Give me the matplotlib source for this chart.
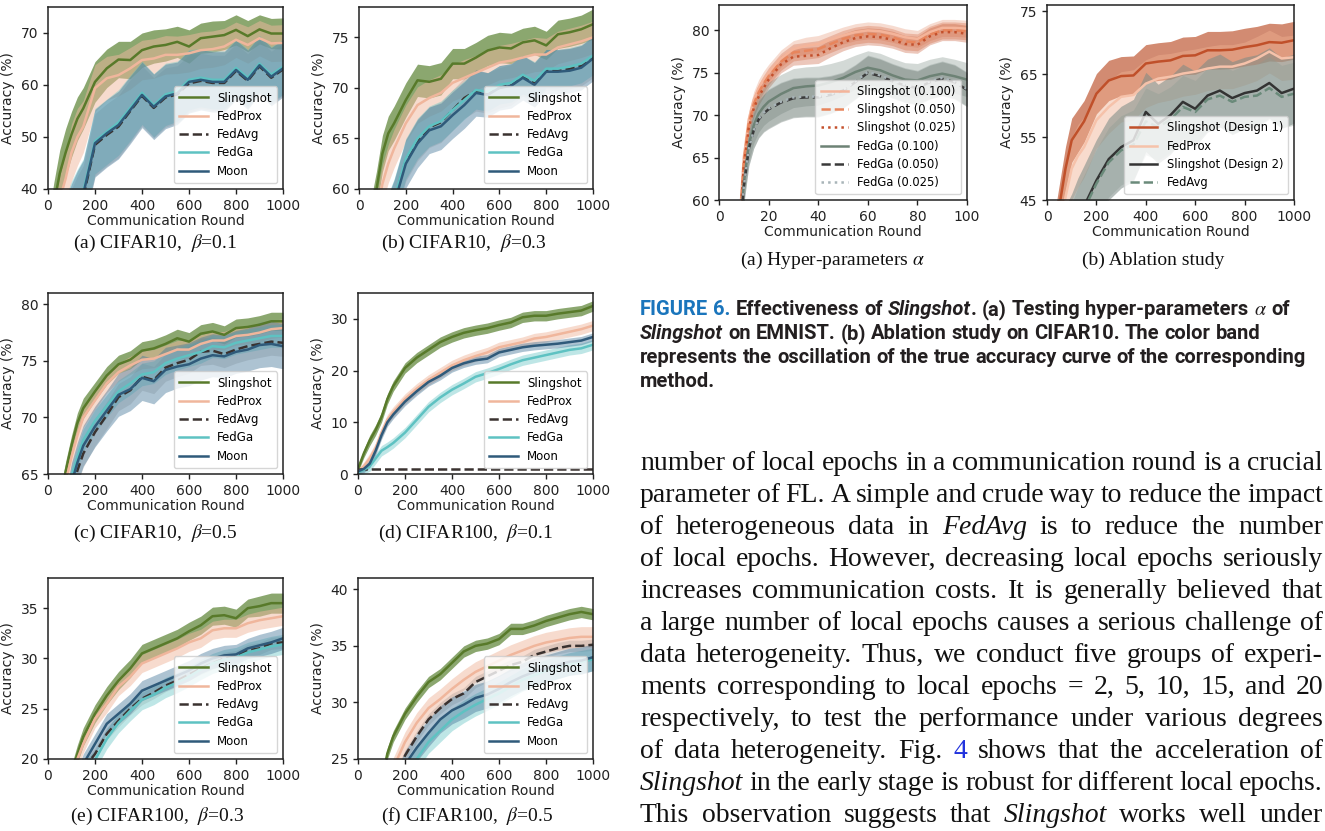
import matplotlib
matplotlib.use("Agg")
from matplotlib import pyplot as plt

W, H = 1325, 831
plt.rcParams['mathtext.fontset'] = 'stix'

# ---------------- data ----------------
rounds = [0, 25, 50, 75, 100, 125, 150, 200, 250, 300, 350, 400, 450, 500,
          550, 600, 650, 700, 750, 800, 850, 900, 950, 1000]

# (a) CIFAR10, beta=0.1
a_sling = [30, 37, 43, 47, 50.5, 53.5, 55.5, 60.6, 63.2, 64.9, 64.8, 66.7, 67.4, 67.7, 68.3, 67.4, 69.0, 69.3, 69.6, 70.6, 69.4, 70.7, 69.9, 69.9]
a_sling_bw = [4.2, 4.3, 4.5, 4.6, 4.4, 4.2, 4.0, 3.9, 3.7, 3.5, 3.6, 3.3, 3.2, 3.1, 3.0, 3.2, 2.9, 3.0, 2.8, 2.9, 3.0, 2.8, 2.9, 3.0]
a_prox = [30, 33, 38, 42, 47, 50, 52, 59.4, 61.3, 61.9, 63.2, 64.8, 65.1, 65.8, 65.8, 66.1, 66.7, 66.9, 67.4, 68.7, 67.7, 69.0, 68.0, 68.1]
a_prox_bw = [3.5, 4.0, 4.5, 5.0, 5.5, 5.5, 5.0, 4.5, 4.2, 4.0, 4.0, 3.8, 3.8, 3.7, 3.6, 3.6, 3.5, 3.5, 3.5, 3.4, 3.5, 3.4, 3.5, 3.5]
a_avg = [19.5, 23.5, 27.5, 31.5, 34.5, 36.5, 38.5, 48.5, 50.4, 52.0, 55.0, 57.9, 55.6, 57.6, 58.2, 60.3, 60.8, 60.4, 60.4, 62.7, 60.8, 63.6, 61.4, 63.0]
a_avg_bw = [4.5, 5.0, 5.5, 5.5, 5.5, 6.0, 6.0, 6.0, 6.0, 6.0, 6.0, 5.8, 5.8, 5.7, 5.5, 5.5, 5.3, 5.3, 5.3, 5.2, 5.2, 5.1, 5.1, 5.0]
a_ga = [20.5, 24.5, 28.5, 32.5, 35.5, 37.5, 39.5, 49.2, 51.0, 52.8, 55.6, 58.5, 56.1, 58.2, 58.8, 61.0, 61.4, 61.0, 61.0, 63.3, 61.4, 64.1, 62.0, 63.5]
a_ga_bw = [5.0, 5.5, 6.0, 6.0, 6.0, 6.3, 6.3, 6.3, 6.3, 6.3, 6.3, 6.1, 6.1, 6.0, 5.8, 5.8, 5.6, 5.6, 5.6, 5.5, 5.5, 5.4, 5.4, 5.3]
a_moon = [20, 24, 28, 32, 35, 37, 39, 48.8, 50.7, 52.3, 55.2, 58.1, 55.8, 57.8, 58.4, 60.6, 61.0, 60.6, 60.6, 62.9, 61.0, 63.8, 61.6, 63.2]
a_moon_bw = [5.0, 5.5, 6.0, 6.0, 6.0, 6.5, 6.5, 6.5, 6.5, 6.5, 6.5, 6.3, 6.3, 6.2, 6.0, 6.0, 5.8, 5.8, 5.8, 5.7, 5.7, 5.6, 5.6, 5.5]

# (b) CIFAR10, beta=0.3
b_sling = [50, 54, 57, 60, 63.5, 65.5, 66.5, 68.8, 70.75, 70.6, 70.9, 72.4, 72.4, 73.0, 73.7, 74.0, 73.9, 74.5, 74.7, 74.2, 75.3, 75.5, 75.8, 76.3]
b_sling_bw = [1.8, 1.8, 1.8, 1.8, 1.8, 1.7, 1.7, 1.7, 1.6, 1.6, 1.6, 1.5, 1.5, 1.5, 1.5, 1.5, 1.5, 1.4, 1.4, 1.4, 1.4, 1.4, 1.4, 1.5]
b_prox = [47, 51, 54.5, 57.5, 60.5, 62.5, 64, 66.5, 68.3, 69.0, 69.5, 70.5, 71.0, 71.5, 72.0, 72.5, 72.7, 73.0, 73.3, 73.3, 74.0, 74.3, 74.6, 75.0]
b_prox_bw = [1.9, 1.9, 1.9, 1.9, 1.9, 1.9, 1.9, 1.8, 1.8, 1.8, 1.8, 1.8, 1.8, 1.7, 1.7, 1.7, 1.7, 1.7, 1.7, 1.6, 1.6, 1.6, 1.6, 1.6]
b_avg = [40.2, 45.2, 48.2, 52.2, 55.2, 57.2, 58.8, 62.8, 64.8, 66.1, 66.6, 67.8, 69.0, 69.7, 69.5, 70.0, 70.3, 71.2, 70.5, 71.8, 71.7, 71.9, 72.2, 73.0]
b_avg_bw = [2.0, 2.0, 2.0, 2.0, 2.0, 2.0, 2.0, 2.0, 2.0, 2.0, 2.0, 2.0, 2.0, 2.0, 2.0, 2.0, 2.0, 2.0, 2.0, 2.0, 2.0, 2.0, 2.0, 2.0]
b_ga = [40.5, 45.5, 48.5, 52.5, 55.5, 57.5, 59, 63, 65, 66.2, 66.7, 67.8, 68.8, 69.8, 69.6, 70.3, 70.5, 71.3, 70.7, 71.9, 71.9, 72.1, 72.4, 73.2]
b_ga_bw = [2.0, 2.0, 2.0, 2.0, 2.0, 2.0, 2.0, 2.0, 2.0, 2.0, 2.0, 2.0, 1.9, 1.9, 1.9, 1.9, 1.9, 1.9, 1.9, 1.9, 1.9, 1.9, 1.9, 1.9]
b_moon = [40, 45, 48, 52, 55, 57, 58.5, 62.5, 64.5, 65.8, 66.2, 67.3, 68.3, 69.5, 69.3, 70.0, 70.2, 71.0, 70.3, 71.6, 71.6, 71.7, 72.0, 72.9]
b_moon_bw = [2.4, 2.4, 2.4, 2.4, 2.4, 2.4, 2.4, 2.4, 2.4, 2.3, 2.3, 2.3, 2.3, 2.3, 2.2, 2.2, 2.2, 2.2, 2.2, 2.2, 2.2, 2.2, 2.2, 2.2]

# (c) CIFAR10, beta=0.5
c_sling = [55, 59, 62.5, 65.2, 67.5, 69.5, 70.8, 72.3, 73.7, 74.7, 75.1, 75.9, 76.1, 76.5, 77.0, 76.7, 77.4, 77.6, 77.3, 77.9, 78.0, 78.2, 78.5, 78.5]
c_sling_bw = [0.9, 0.9, 0.9, 0.9, 0.9, 0.9, 0.9, 0.8, 0.8, 0.8, 0.8, 0.8, 0.8, 0.8, 0.8, 0.8, 0.8, 0.8, 0.8, 0.8, 0.8, 0.8, 0.8, 0.8]
c_prox = [54, 58, 61.5, 64.3, 66.5, 68.4, 70.0, 71.5, 73.0, 74.0, 74.6, 75.1, 75.2, 75.6, 76.0, 76.0, 76.5, 76.8, 76.8, 77.2, 77.3, 77.5, 77.8, 77.9]
c_prox_bw = [0.9, 0.9, 0.9, 0.9, 0.9, 0.9, 0.9, 0.8, 0.8, 0.8, 0.8, 0.8, 0.8, 0.8, 0.8, 0.8, 0.8, 0.8, 0.8, 0.8, 0.8, 0.8, 0.8, 0.8]
c_avg = [49, 53, 57, 60.5, 63.5, 65.3, 66.8, 68.7, 70.2, 71.8, 72.4, 73.6, 73.3, 74.4, 74.8, 75.1, 75.8, 75.9, 75.6, 76.0, 76.3, 76.5, 76.7, 76.6]
c_avg_bw = [1.2, 1.2, 1.2, 1.2, 1.2, 1.2, 1.2, 1.2, 1.2, 1.2, 1.2, 1.2, 1.2, 1.2, 1.2, 1.2, 1.2, 1.2, 1.2, 1.2, 1.2, 1.2, 1.2, 1.2]
c_ga = [52, 56, 59.5, 62.5, 64.8, 66.5, 68.0, 69.7, 71.0, 72.3, 73.0, 73.8, 74.0, 74.8, 75.2, 75.5, 75.8, 76.3, 76.2, 76.6, 76.8, 77.0, 77.2, 77.2]
c_ga_bw = [1.0, 1.0, 1.0, 1.0, 1.0, 1.0, 1.0, 1.0, 1.0, 1.0, 1.0, 1.0, 1.0, 1.0, 1.0, 1.0, 1.0, 1.0, 1.0, 1.0, 1.0, 1.0, 1.0, 1.0]
c_moon = [50, 54, 58, 61.5, 64.2, 66.0, 67.5, 69.2, 70.6, 72.0, 72.5, 73.5, 73.2, 74.2, 74.5, 74.7, 75.2, 75.5, 75.4, 75.8, 76.0, 76.4, 76.5, 76.3]
c_moon_bw = [1.8, 1.8, 1.8, 1.8, 1.8, 1.8, 1.8, 1.8, 1.8, 1.9, 1.9, 2.0, 2.0, 2.0, 1.9, 1.9, 1.9, 1.9, 1.9, 1.9, 1.9, 2.0, 2.0, 2.0]

# (d) CIFAR100, beta=0.1
d_sling = [1.0, 4.0, 6.5, 8.5, 11.0, 14.5, 17.0, 20.5, 22.5, 24.0, 25.5, 26.5, 27.3, 27.8, 28.2, 28.8, 29.3, 30.3, 30.6, 30.6, 31.0, 31.3, 31.6, 32.5]
d_sling_bw = [0.6, 0.8, 1.0, 1.0, 1.0, 1.0, 1.0, 1.0, 1.0, 1.0, 1.0, 1.0, 1.0, 1.0, 1.0, 1.0, 1.0, 1.0, 1.0, 1.0, 1.0, 1.0, 1.0, 1.0]
d_prox = [0.5, 1.5, 3.0, 5.0, 8.0, 10.5, 12.0, 14.5, 16.5, 18.2, 19.6, 21.0, 22.0, 22.8, 23.5, 24.5, 25.0, 25.5, 26.2, 26.5, 27.0, 27.5, 28.0, 28.7]
d_prox_bw = [0.5, 0.8, 1.0, 1.0, 1.0, 1.0, 1.0, 1.0, 1.0, 1.0, 1.0, 1.0, 1.0, 1.0, 1.0, 1.0, 1.0, 1.0, 1.0, 1.0, 1.0, 1.0, 1.0, 1.0]
d_avg = [1.0, 1.0, 1.0, 1.0, 1.0, 1.0, 1.0, 1.0, 1.0, 1.0, 1.0, 1.0, 1.0, 1.0, 1.0, 1.0, 1.0, 1.0, 1.0, 1.0, 1.0, 1.0, 1.0, 1.0]
d_avg_bw = [0.0, 0.0, 0.0, 0.0, 0.0, 0.0, 0.0, 0.0, 0.0, 0.0, 0.0, 0.0, 0.0, 0.0, 0.0, 0.0, 0.0, 0.0, 0.0, 0.0, 0.0, 0.0, 0.0, 0.0]
d_ga = [0.3, 0.8, 1.5, 3.0, 4.5, 5.2, 6.0, 8.0, 10.5, 13.0, 14.8, 16.3, 17.5, 18.8, 19.5, 20.3, 21.2, 22.0, 22.5, 23.0, 23.5, 24.0, 24.3, 25.0]
d_ga_bw = [0.5, 0.8, 1.0, 1.0, 1.0, 1.0, 1.0, 1.0, 1.0, 1.0, 1.0, 1.0, 1.0, 1.0, 1.0, 1.0, 1.0, 1.0, 1.0, 1.0, 1.0, 1.0, 1.0, 1.0]
d_moon = [0.5, 1.0, 2.0, 4.5, 7.5, 10.0, 11.5, 14.0, 16.0, 17.8, 19.0, 20.5, 21.4, 22.0, 22.3, 23.5, 24.0, 24.5, 24.8, 25.0, 25.2, 25.5, 25.8, 26.5]
d_moon_bw = [0.5, 0.7, 0.8, 0.8, 0.8, 0.8, 0.8, 0.8, 0.8, 0.8, 0.8, 0.8, 0.8, 0.8, 0.8, 0.8, 0.8, 0.8, 0.8, 0.8, 0.8, 0.8, 0.8, 0.8]

# (e) CIFAR100, beta=0.3
e_sling = [5, 9, 13, 16, 18.5, 20.5, 22.2, 24.5, 26.3, 27.8, 29.0, 30.5, 31.0, 31.5, 32.0, 32.7, 33.3, 34.2, 34.3, 34.0, 35.0, 35.2, 35.5, 35.5]
e_sling_bw = [0.9, 0.9, 0.9, 0.9, 0.9, 0.9, 0.9, 0.9, 0.9, 0.9, 0.9, 0.9, 0.9, 0.9, 0.9, 0.9, 0.9, 0.9, 0.9, 0.9, 0.9, 1.0, 1.0, 1.0]
e_prox = [4.5, 8.5, 12.5, 15.5, 18.0, 20.0, 21.5, 24.0, 25.5, 27.2, 28.2, 29.5, 30.0, 30.5, 31.0, 31.6, 32.0, 32.8, 33.0, 33.0, 33.5, 33.8, 34.0, 34.2]
e_prox_bw = [0.9, 0.9, 0.9, 0.9, 0.9, 0.9, 0.9, 0.9, 0.9, 0.9, 0.9, 0.9, 0.9, 0.9, 0.9, 0.9, 0.9, 0.9, 0.9, 0.9, 0.9, 0.9, 0.9, 0.9]
e_avg = [2.5, 6.5, 10, 13, 15.5, 17.5, 19.0, 20.5, 22.5, 23.8, 25.0, 26.0, 26.6, 27.3, 27.8, 28.4, 29.0, 29.5, 30.0, 30.2, 30.8, 31.0, 31.5, 31.6]
e_avg_bw = [0.6, 0.6, 0.6, 0.6, 0.6, 0.6, 0.6, 0.6, 0.6, 0.6, 0.6, 0.6, 0.6, 0.6, 0.6, 0.6, 0.6, 0.6, 0.6, 0.6, 0.6, 0.6, 0.6, 0.6]
e_ga = [2.3, 6.3, 9.8, 12.8, 15.3, 17.3, 18.6, 19.9, 22.0, 23.6, 24.8, 25.9, 26.4, 27.1, 27.6, 28.2, 28.9, 29.5, 29.9, 30.1, 30.6, 30.9, 31.2, 31.4]
e_ga_bw = [1.0, 1.0, 1.0, 1.0, 1.0, 1.0, 1.0, 1.0, 1.0, 1.0, 1.0, 1.0, 1.0, 1.0, 1.0, 1.0, 1.0, 1.0, 1.0, 1.0, 1.0, 1.0, 1.0, 1.0]
e_moon = [3, 7, 10.5, 13.5, 16.0, 18.0, 19.5, 21.5, 23.5, 24.5, 25.5, 26.8, 27.3, 27.8, 28.3, 28.8, 29.5, 30.0, 30.3, 30.4, 31.0, 31.3, 31.6, 32.0]
e_moon_bw = [1.0, 1.0, 1.0, 1.0, 1.0, 1.0, 1.0, 1.0, 1.0, 1.0, 1.0, 1.0, 1.0, 1.0, 1.0, 1.0, 1.0, 1.0, 1.0, 1.0, 1.0, 1.1, 1.1, 1.1]

# (f) CIFAR100, beta=0.5
f_sling = [8, 13, 17, 20.5, 23, 25.5, 27, 29, 30.5, 31.8, 32.5, 33.5, 34.5, 35.0, 35.2, 35.6, 36.5, 36.5, 36.8, 37.2, 37.5, 37.8, 38.0, 37.8]
f_sling_bw = [0.5, 0.5, 0.5, 0.5, 0.5, 0.5, 0.5, 0.5, 0.5, 0.5, 0.5, 0.5, 0.5, 0.5, 0.5, 0.5, 0.5, 0.5, 0.5, 0.5, 0.5, 0.5, 0.5, 0.5]
f_prox = [6, 10, 14, 17.5, 20.5, 22.5, 24.2, 26.5, 28.2, 29.5, 30.3, 31.2, 32.0, 32.7, 33.2, 33.7, 34.2, 34.6, 35.0, 35.3, 35.5, 35.7, 35.8, 35.8]
f_prox_bw = [0.9, 0.9, 0.9, 0.9, 0.9, 0.9, 0.9, 0.9, 0.9, 0.9, 0.9, 0.9, 0.9, 0.9, 0.9, 0.9, 0.9, 0.9, 0.9, 0.9, 0.9, 0.9, 0.9, 0.9]
f_avg = [5, 9, 13, 16.5, 19.5, 21.5, 23.0, 25.3, 27.0, 28.5, 29.5, 30.3, 30.8, 31.8, 32.3, 32.8, 33.3, 33.6, 34.2, 34.5, 34.8, 35.0, 35.0, 35.1]
f_avg_bw = [0.5, 0.5, 0.5, 0.5, 0.5, 0.5, 0.5, 0.5, 0.5, 0.5, 0.5, 0.5, 0.5, 0.5, 0.5, 0.5, 0.5, 0.5, 0.5, 0.5, 0.5, 0.5, 0.5, 0.5]
f_ga = [3, 7, 11, 14, 17, 19, 21, 23.5, 25.0, 26.5, 27.5, 28.5, 29.2, 29.8, 30.3, 30.8, 31.4, 32.0, 32.4, 32.8, 33.1, 33.4, 33.6, 33.8]
f_ga_bw = [1.0, 1.0, 1.0, 1.0, 1.0, 1.0, 1.0, 1.0, 1.0, 1.0, 1.0, 1.0, 1.0, 1.0, 1.0, 1.0, 1.0, 1.0, 1.0, 1.0, 1.0, 1.0, 1.0, 1.0]
f_moon = [4, 8, 12, 15, 18, 20.5, 22, 24.5, 26.0, 27.3, 28.5, 29.3, 29.8, 30.4, 30.7, 31.2, 31.8, 32.3, 32.7, 33.0, 33.3, 33.6, 33.7, 34.0]
f_moon_bw = [1.2, 1.2, 1.2, 1.2, 1.2, 1.2, 1.2, 1.2, 1.2, 1.2, 1.2, 1.2, 1.2, 1.2, 1.2, 1.2, 1.2, 1.2, 1.2, 1.2, 1.2, 1.2, 1.2, 1.2]

# hyper-parameters alpha (EMNIST), rounds 0-100
h_rounds = [8, 10, 12, 14, 16, 18, 20, 25, 30, 35, 40, 45, 50, 55, 60, 65, 70, 75, 80, 85, 90, 95, 100]
h_s100 = [56, 65, 69.5, 71.8, 73.2, 74.2, 75.0, 76.7, 77.8, 78.2, 78.4, 78.9, 79.4, 79.8, 80.0, 79.9, 79.6, 79.2, 79.0, 79.8, 80.3, 80.3, 80.2]
h_s050 = [55.5, 64.5, 69, 71.3, 72.7, 73.7, 74.6, 76.3, 77.4, 77.6, 77.8, 78.4, 79.0, 79.4, 79.6, 79.5, 79.2, 78.7, 78.6, 79.5, 80.0, 80.0, 79.9]
h_s025 = [55, 64, 68.5, 70.8, 72.2, 73.2, 74.2, 76.0, 76.9, 77.0, 77.1, 77.9, 78.6, 79.1, 79.3, 79.2, 78.9, 78.4, 78.3, 79.3, 79.8, 79.8, 79.6]
h_s_bw = [1.0, 1.0, 1.0, 1.0, 1.0, 1.0, 1.0, 1.0, 1.0, 1.0, 1.0, 1.0, 1.0, 1.0, 1.0, 1.0, 1.0, 1.0, 1.0, 1.0, 1.0, 1.0, 1.0]
h_g100 = [54, 62, 66.5, 68.8, 70.2, 71.0, 71.6, 72.5, 73.2, 73.4, 73.5, 73.9, 74.4, 75.1, 75.6, 75.3, 74.7, 74.2, 74.1, 74.6, 74.9, 74.6, 74.2]
h_g050 = [53.5, 61.5, 66, 68.2, 69.5, 70.2, 70.7, 71.5, 72.0, 72.1, 72.1, 72.4, 72.9, 73.9, 75.0, 74.6, 74.0, 73.5, 73.2, 73.9, 74.3, 73.9, 73.0]
h_g025 = [53.5, 61.5, 66, 68.2, 69.6, 70.3, 70.8, 71.6, 72.1, 72.2, 72.2, 72.5, 73.0, 74.0, 75.1, 74.7, 74.1, 73.6, 73.3, 74.0, 74.4, 74.0, 73.1]
h_g_bw = [2.0, 2.0, 2.0, 2.1, 2.2, 2.2, 2.3, 2.3, 2.3, 2.3, 2.3, 2.2, 2.1, 2.0, 2.0, 2.0, 2.0, 2.0, 2.0, 2.0, 2.0, 2.0, 2.0]

# ablation study (CIFAR10)
abl_d1 = [32, 38, 44, 50, 54.5, 56, 57.5, 61.9, 64.0, 64.7, 64.8, 66.7, 67.0, 67.2, 67.9, 68.0, 68.8, 68.8, 68.9, 69.3, 69.6, 70.1, 70.0, 70.4]
abl_d1_bw = [3.5, 3.5, 3.5, 3.5, 3.5, 3.4, 3.3, 3.2, 3.2, 3.1, 3.1, 3.0, 3.0, 3.0, 3.0, 3.0, 3.0, 3.0, 3.0, 3.0, 3.0, 3.0, 3.0, 3.0]
abl_prox = [28, 34, 40, 45.5, 50, 52, 53.4, 57.7, 59.8, 61.4, 61.7, 63.5, 64.3, 64.6, 65.1, 65.4, 65.9, 66.2, 66.2, 66.7, 67.5, 68.6, 67.5, 67.7]
abl_prox_bw = [3.5, 4.0, 4.5, 5.0, 5.0, 5.0, 4.8, 4.5, 4.2, 4.0, 4.0, 3.8, 3.8, 3.7, 3.6, 3.6, 3.5, 3.5, 3.5, 3.4, 3.5, 3.4, 3.5, 3.5]
abl_d2 = [30, 33, 35.5, 38, 40, 42, 44, 48.1, 51.5, 53.4, 54.5, 59.0, 57.1, 58.5, 60.6, 59.5, 61.6, 62.4, 61.2, 62.0, 62.4, 63.6, 62.0, 62.7]
abl_d2_bw = [5.5, 6.0, 6.0, 6.0, 6.0, 6.5, 6.5, 6.5, 6.5, 6.5, 6.5, 6.3, 6.3, 6.2, 6.0, 6.0, 5.8, 5.8, 5.8, 5.7, 5.7, 5.6, 5.6, 5.5]
abl_avg = [29.5, 32.5, 35, 37.5, 39.5, 41.5, 43.5, 47.6, 51.0, 52.9, 53.8, 57.5, 56.6, 57.8, 59.8, 59.0, 61.0, 61.6, 60.6, 61.4, 61.6, 62.8, 61.4, 61.9]
abl_avg_bw = [5.0, 5.0, 5.0, 5.0, 5.0, 5.5, 5.5, 5.5, 5.5, 5.5, 5.5, 5.3, 5.3, 5.2, 5.0, 5.0, 5.0, 5.0, 5.0, 5.0, 5.0, 5.0, 5.0, 5.0]

methods = ['Slingshot', 'FedProx', 'FedAvg', 'FedGa', 'Moon']
# line colour, line style, band colour, band alpha
STYLE = {
    'Slingshot': ('#587a2a', '-', '#5e8638', 0.72),
    'FedProx': ('#f0b69c', '-', '#f0b89e', 0.5),
    'FedAvg': ('#3a3230', '--', '#8c8480', 0.25),
    'FedGa': ('#5ec2c2', '-', '#5ec2c2', 0.4),
    'Moon': ('#2f5a7a', '-', '#4a7b9c', 0.45),
}


def add_axes(fig, x0, y0, x1, y1):
    return fig.add_axes([x0 / W, 1 - y1 / H, (x1 - x0) / W, (y1 - y0) / H])


def style_axes(ax, xlim, xticks, ylim, yticks):
    ax.set_xlim(*xlim)
    ax.set_ylim(*ylim)
    ax.set_xticks(xticks)
    ax.set_yticks(yticks)
    ax.tick_params(labelsize=10, length=3.5, width=1, colors='#222222')
    for s in ax.spines.values():
        s.set_linewidth(1.1)
        s.set_color('#222222')
    ax.set_xlabel('Communication Round', fontsize=10, labelpad=1, color='#222222')
    ax.set_ylabel('Accuracy (%)', fontsize=10, labelpad=4, color='#222222')


def draw_panel(ax, x, series, ylim, yticks, legend_size=8.5):
    for name, y, bw, (lc, ls, bc, ba) in series:
        lo = [v - w for v, w in zip(y, bw)]
        hi = [v + w for v, w in zip(y, bw)]
        ax.fill_between(x, lo, hi, color=bc, alpha=ba, lw=0)
    for name, y, bw, (lc, ls, bc, ba) in series:
        ax.plot(x, y, color=lc, ls=ls, lw=1.8, label=name)
    ax.legend(loc='lower right', fontsize=legend_size, framealpha=0.8,
              handlelength=2.4, labelspacing=0.45, borderpad=0.45)
    style_axes(ax, (0, 1000), [0, 200, 400, 600, 800, 1000], ylim, yticks)


fig = plt.figure(figsize=(W / 100, H / 100), dpi=100)

left_panels = [
    ((48, 7, 283, 189), [a_sling, a_prox, a_avg, a_ga, a_moon],
     [a_sling_bw, a_prox_bw, a_avg_bw, a_ga_bw, a_moon_bw], (40, 75), [40, 50, 60, 70]),
    ((359, 7, 593, 189), [b_sling, b_prox, b_avg, b_ga, b_moon],
     [b_sling_bw, b_prox_bw, b_avg_bw, b_ga_bw, b_moon_bw], (60, 78), [60, 65, 70, 75]),
    ((48, 293, 283, 474), [c_sling, c_prox, c_avg, c_ga, c_moon],
     [c_sling_bw, c_prox_bw, c_avg_bw, c_ga_bw, c_moon_bw], (65, 81), [65, 70, 75, 80]),
    ((358, 293, 593, 474), [d_sling, d_prox, d_avg, d_ga, d_moon],
     [d_sling_bw, d_prox_bw, d_avg_bw, d_ga_bw, d_moon_bw], (0, 35), [0, 10, 20, 30]),
    ((48, 578, 283, 759), [e_sling, e_prox, e_avg, e_ga, e_moon],
     [e_sling_bw, e_prox_bw, e_avg_bw, e_ga_bw, e_moon_bw], (20, 38), [20, 25, 30, 35]),
    ((358, 578, 593, 759), [f_sling, f_prox, f_avg, f_ga, f_moon],
     [f_sling_bw, f_prox_bw, f_avg_bw, f_ga_bw, f_moon_bw], (25, 41), [25, 30, 35, 40]),
]
for box, ys, bws, ylim, yticks in left_panels:
    ax = add_axes(fig, *box)
    series = [(m, y, bw, STYLE[m]) for m, y, bw in zip(methods, ys, bws)]
    draw_panel(ax, rounds, series, ylim, yticks)

# hyper-parameter panel
ax = add_axes(fig, 719, 5, 967, 200)
hyper = [
    ('Slingshot (0.100)', h_s100, '#f4b49a', '-'),
    ('Slingshot (0.050)', h_s050, '#e8855c', '--'),
    ('Slingshot (0.025)', h_s025, '#c4502c', ':'),
    ('FedGa (0.100)', h_g100, '#6d8275', '-'),
    ('FedGa (0.050)', h_g050, '#3a3a3a', '--'),
    ('FedGa (0.025)', h_g025, '#a8b4b8', ':'),
]
for y, bc in [(h_s100, '#e79a7a'), (h_s050, '#d9714d'), (h_s025, '#c9603c')]:
    ax.fill_between(h_rounds, [v - w for v, w in zip(y, h_s_bw)],
                    [v + w for v, w in zip(y, h_s_bw)], color=bc, alpha=0.35, lw=0)
for y, bc in [(h_g100, '#6f8378'), (h_g050, '#4f5f57'), (h_g025, '#7d8c86')]:
    ax.fill_between(h_rounds, [v - w for v, w in zip(y, h_g_bw)],
                    [v + w for v, w in zip(y, h_g_bw)], color=bc, alpha=0.3, lw=0)
for name, y, c, ls in hyper:
    ax.plot(h_rounds, y, color=c, ls=ls, lw=1.8, label=name)
ax.legend(loc='lower right', fontsize=8.3, framealpha=0.8, handlelength=2.4,
          labelspacing=0.45, borderpad=0.45)
style_axes(ax, (0, 100), [0, 20, 40, 60, 80, 100], (60, 83), [60, 65, 70, 75, 80])

# ablation panel
ax = add_axes(fig, 1047, 5, 1294, 200)
ablation = [
    ('Slingshot (Design 1)', abl_d1, abl_d1_bw, '#c0502a', '-', '#c05a36', 0.7),
    ('FedProx', abl_prox, abl_prox_bw, '#f6c2aa', '-', '#f0b090', 0.45),
    ('Slingshot (Design 2)', abl_d2, abl_d2_bw, '#333333', '-', '#7a8a85', 0.55),
    ('FedAvg', abl_avg, abl_avg_bw, '#6a8a7a', '--', '#8a9a92', 0.35),
]
for name, y, bw, lc, ls, bc, ba in ablation:
    ax.fill_between(rounds, [v - w for v, w in zip(y, bw)],
                    [v + w for v, w in zip(y, bw)], color=bc, alpha=ba, lw=0)
for name, y, bw, lc, ls, bc, ba in ablation:
    ax.plot(rounds, y, color=lc, ls=ls, lw=1.8, label=name)
ax.legend(loc='lower right', fontsize=8.3, framealpha=0.8, handlelength=2.4,
          labelspacing=0.45, borderpad=0.45)
style_axes(ax, (0, 1000), [0, 200, 400, 600, 800, 1000], (45, 76), [45, 55, 65, 75])

# sub-captions
SERIF = ['Liberation Serif', 'DejaVu Serif']
subcaps = [
    (155, 243, r'(a) CIFAR10,  $\beta$=0.1'),
    (464, 243, r'(b) CIFAR10,  $\beta$=0.3'),
    (155, 533, r'(c) CIFAR10,  $\beta$=0.5'),
    (466, 533, r'(d) CIFAR100,  $\beta$=0.1'),
    (157, 816, r'(e) CIFAR100,  $\beta$=0.3'),
    (467, 816, r'(f) CIFAR100,  $\beta$=0.5'),
    (832, 260, r'(a) Hyper-parameters $\alpha$'),
    (1153, 260, '(b) Ablation study'),
]
for x, y, s in subcaps:
    fig.text(x / W, 1 - y / H, s, ha='center', va='center', fontsize=14,
             family=SERIF, color='#111111')

# running text, word by word
renderer = fig.canvas.get_renderer()


def split_pieces(word):
    out, buf, ital, blue = [], '', False, False
    for ch in word:
        if ch in '*~':
            if buf:
                out.append((buf, ital, blue))
            buf = ''
            if ch == '*':
                ital = not ital
            else:
                blue = not blue
        else:
            buf += ch
    if buf:
        out.append((buf, ital, blue))
    return out


def text_line(line, x0, y, size, family, weight, color, blue, x1=None):
    kw = dict(fontsize=size, family=family, weight=weight, va='baseline')
    words = []
    for w in line.split(' '):
        arts = []
        for s, ital, isblue in split_pieces(w):
            t = fig.text(0, 1 - y / H, s, style='italic' if ital else 'normal',
                         color=blue if isblue else color, **kw)
            arts.append((t, t.get_window_extent(renderer).width))
        words.append(arts)
    probe1 = fig.text(0, 0, 'a a', **kw)
    probe2 = fig.text(0, 0, 'aa', **kw)
    space = (probe1.get_window_extent(renderer).width
             - probe2.get_window_extent(renderer).width)
    probe1.remove()
    probe2.remove()
    widths = [sum(w for _, w in arts) for arts in words]
    gap = space
    if x1 is not None and len(words) > 1:
        gap = (x1 - x0 - sum(widths)) / (len(words) - 1)
    x = x0
    for arts, wsum in zip(words, widths):
        xx = x
        for t, w in arts:
            t.set_x(xx / W)
            xx += w
        x += wsum + gap


caption = [
    '~FIGURE~ ~6.~ Effectiveness of *Slingshot*. (a) Testing hyper-parameters $\\alpha$ of',
    '*Slingshot* on EMNIST. (b) Ablation study on CIFAR10. The color band',
    'represents the oscillation of the true accuracy curve of the corresponding',
    'method.',
]
CAP_FONT = ['Liberation Sans Narrow', 'Roboto']
for i, line in enumerate(caption):
    text_line(line, 640, 315 + 24 * i, 14.5, CAP_FONT, 'bold', '#231f20', '#1a75bc')

body = [
    'number of local epochs in a communication round is a crucial',
    'parameter of FL. A simple and crude way to reduce the impact',
    'of heterogeneous data in *FedAvg* is to reduce the number',
    'of local epochs. However, decreasing local epochs seriously',
    'increases communication costs. It is generally believed that',
    'a large number of local epochs causes a serious challenge of',
    'data heterogeneity. Thus, we conduct five groups of experi-',
    'ments corresponding to local epochs = 2, 5, 10, 15, and 20',
    'respectively, to test the performance under various degrees',
    'of data heterogeneity. Fig. ~4~ shows that the acceleration of',
    '*Slingshot* in the early stage is robust for different local epochs.',
    'This observation suggests that *Slingshot* works well under',
]
for i, line in enumerate(body):
    text_line(line, 640, 470 + 32 * i, 20, SERIF, 'normal', '#111111', '#2233dd', x1=1323)

fig.savefig('out.png', dpi=100)
